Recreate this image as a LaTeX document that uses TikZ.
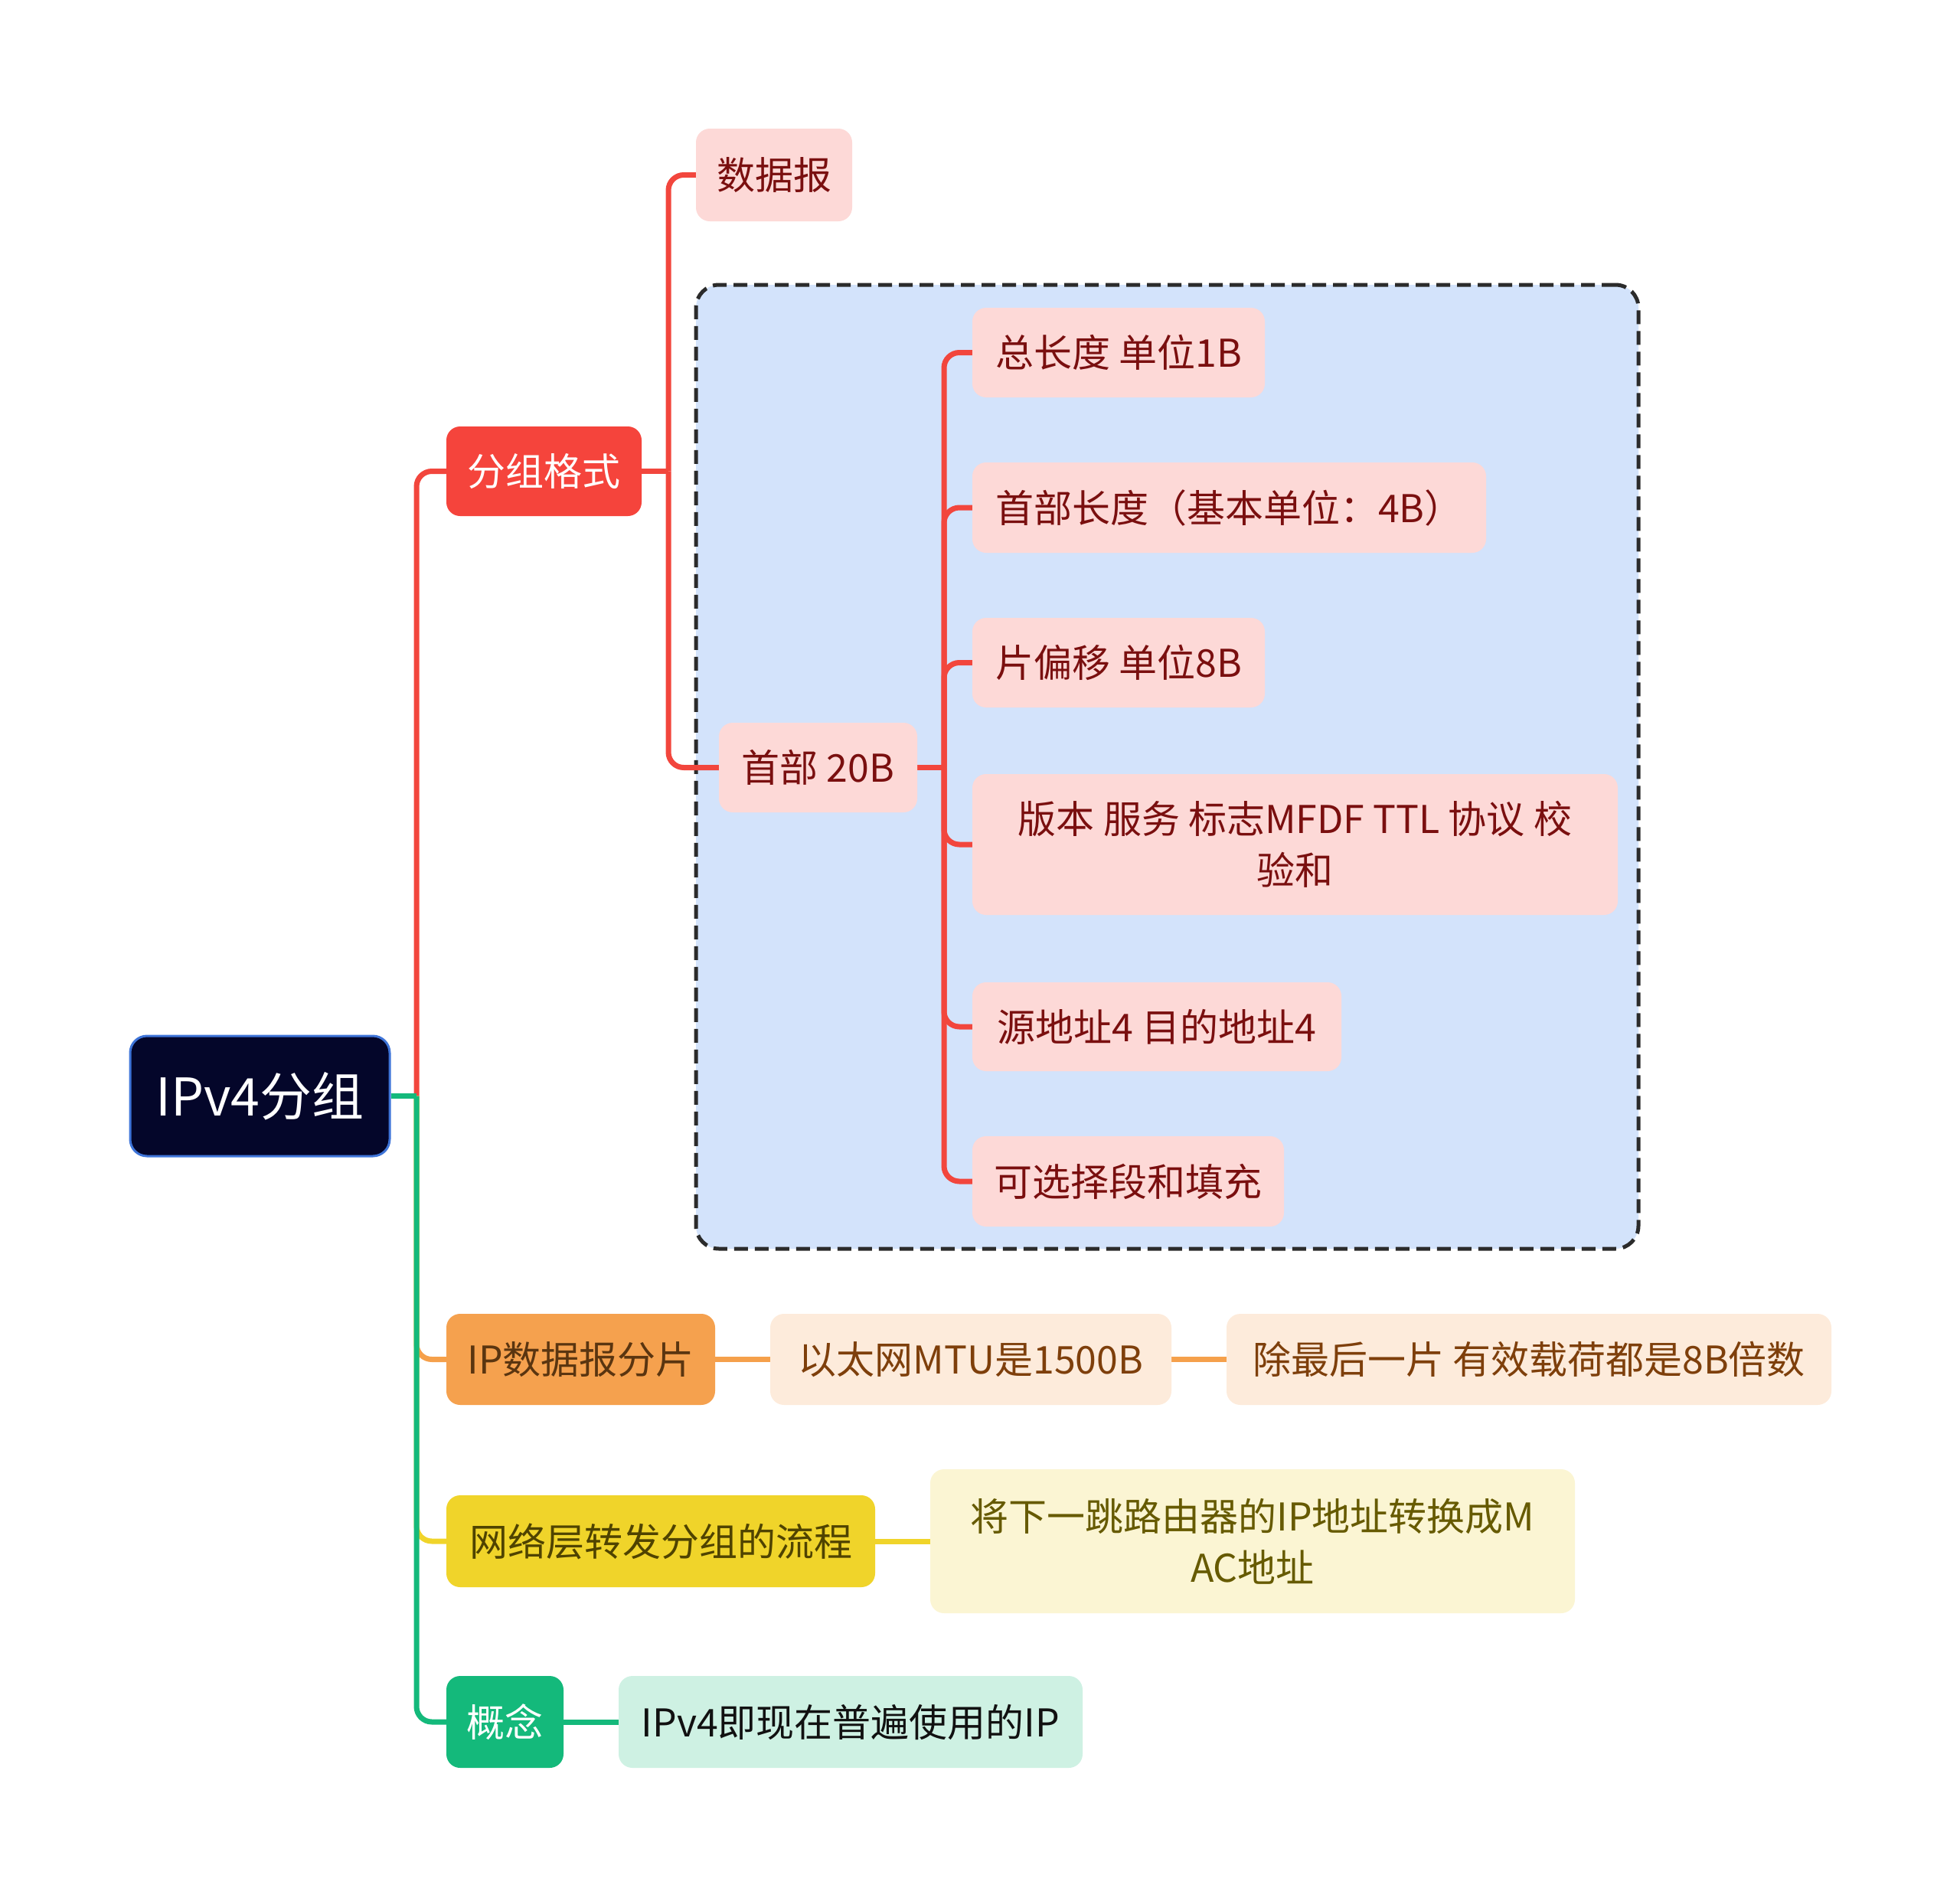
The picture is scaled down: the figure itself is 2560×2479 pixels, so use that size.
\documentclass[tikz,border=0pt]{standalone}
\usepackage{fontspec}
\setmainfont{Noto Sans CJK SC}
\usetikzlibrary{backgrounds}
\definecolor{rootfill}{HTML}{04062A}
\definecolor{rootborder}{HTML}{3E74D8}
\definecolor{redfill}{HTML}{F5443C}
\definecolor{rline}{HTML}{F2463D}
\definecolor{pinkfill}{HTML}{FDD9D7}
\definecolor{pinktext}{HTML}{7A0F0F}
\definecolor{boxblue}{HTML}{D3E3FB}
\definecolor{dashc}{HTML}{2B2B2B}
\definecolor{orangefill}{HTML}{F5A14E}
\definecolor{orangetext}{HTML}{5A3510}
\definecolor{oline}{HTML}{F5A04B}
\definecolor{peachfill}{HTML}{FDEBDB}
\definecolor{peachtext}{HTML}{7E3F0B}
\definecolor{yellowfill}{HTML}{F0D42A}
\definecolor{yellowtext}{HTML}{4F4300}
\definecolor{yline}{HTML}{F0D42A}
\definecolor{paleyellow}{HTML}{FBF5D3}
\definecolor{paleyellowtext}{HTML}{665A00}
\definecolor{greenfill}{HTML}{14B97B}
\definecolor{gline}{HTML}{14B97B}
\definecolor{mintfill}{HTML}{CEF1E3}
\definecolor{minttext}{HTML}{111111}
\begin{document}
\begin{tikzpicture}[x=1pt,y=-1pt,
  box/.style={rounded corners=18pt, inner sep=0pt, align=center, font=\fontsize{50}{67}\selectfont},
  pinkbox/.style={box, fill=pinkfill, text=pinktext},
  peachbox/.style={box, fill=peachfill, text=peachtext},
  conn/.style={line width=7pt, rounded corners=20pt},
  grpbox/.style={draw=dashc, fill=boxblue, line width=5pt, dash pattern=on 18pt off 9pt, rounded corners=30pt, inner sep=0pt},
]
\useasboundingbox (0,0) rectangle (2560,2479);

% root
\node[box, fill=rootfill, draw=rootborder, line width=3pt, rounded corners=22pt,
      minimum width=339pt, minimum height=157pt, text=white,
      font=\fontsize{68}{80}\selectfont] (root) at (339.5,1431.5) {IPv4分组};

% level 1
\node[box, fill=redfill, text=white, minimum width=255pt, minimum height=117pt] (fz) at (710.5,615.5) {分组格式};
\node[box, fill=orangefill, text=orangetext, minimum width=351pt, minimum height=119pt] (ip) at (758.5,1775.5) {IP数据报分片};
\node[box, fill=yellowfill, text=yellowtext, minimum width=560pt, minimum height=120pt] (wl) at (863,2013) {网络层转发分组的流程};
\node[box, fill=greenfill, text=white, minimum width=153pt, minimum height=120pt] (gn) at (659.5,2249) {概念};

% level 2
\node[pinkbox, minimum width=204pt, minimum height=121pt] (sjb) at (1011,228.5) {数据报};
\node[pinkbox, minimum width=259pt, minimum height=117pt] (sb) at (1068.5,1002.5) {首部 20B};
\node[peachbox, minimum width=524pt, minimum height=119pt] (mtu) at (1268,1775.5) {以太网MTU是1500B};
\node[peachbox, minimum width=790pt, minimum height=119pt] (last) at (1997,1775.5) {除最后一片 有效载荷都是8B倍数};
\node[box, fill=paleyellow, text=paleyellowtext, minimum width=842pt, minimum height=188pt] (jx) at (1636,2013) {将下一跳路由器的IP地址转换成M\\AC地址};
\node[box, fill=mintfill, text=minttext, minimum width=606pt, minimum height=120pt] (ipv4) at (1111,2249) {IPv4即现在普遍使用的IP};

% level 3
\node[pinkbox, minimum width=382pt, minimum height=117pt] (c1) at (1461,460.5) {总长度 单位1B};
\node[pinkbox, minimum width=671pt, minimum height=118pt] (c2) at (1605.5,663) {首部长度（基本单位：4B）};
\node[pinkbox, minimum width=382pt, minimum height=117pt] (c3) at (1461,865.5) {片偏移 单位8B};
\node[pinkbox, minimum width=843pt, minimum height=184pt] (c4) at (1691.5,1103) {版本 服务 标志MFDF TTL 协议 校\\验和};
\node[pinkbox, minimum width=482pt, minimum height=116pt] (c5) at (1511,1341) {源地址4 目的地址4};
\node[pinkbox, minimum width=407pt, minimum height=118pt] (c6) at (1473.5,1543) {可选择段和填充};

\coordinate (j) at (544,1431.5);
\coordinate (t2) at (873,615.5);
\coordinate (t3) at (1233,1002.5);

\begin{scope}[on background layer]
  \node[grpbox, minimum width=1231pt, minimum height=1259pt] (grp) at (1524.5,1001.5) {};
  % red
  \draw[conn, rline] (j) |- (fz.west);
  \draw[conn, rline] (fz.east) -- (t2);
  \draw[conn, rline] (t2) |- (sjb.west);
  \draw[conn, rline] (t2) |- (sb.west);
  \draw[conn, rline] (sb.east) -- (t3);
  \draw[conn, rline] (t3) |- (c1.west);
  \draw[conn, rline] (t3) |- (c2.west);
  \draw[conn, rline] (t3) |- (c3.west);
  \draw[conn, rline] (t3) |- (c4.west);
  \draw[conn, rline] (t3) |- (c5.west);
  \draw[conn, rline] (t3) |- (c6.west);
  % orange
  \draw[conn, oline] (j) |- (ip.west);
  \draw[conn, oline] (ip.east) -- (mtu.west);
  \draw[conn, oline] (mtu.east) -- (last.west);
  % yellow
  \draw[conn, yline] (j) |- (wl.west);
  \draw[conn, yline] (wl.east) -- (jx.west);
  % green
  \draw[conn, gline] (root.east) -- (j);
  \draw[conn, gline] (j) |- (gn.west);
  \draw[conn, gline] (gn.east) -- (ipv4.west);
\end{scope}
\end{tikzpicture}
\end{document}
